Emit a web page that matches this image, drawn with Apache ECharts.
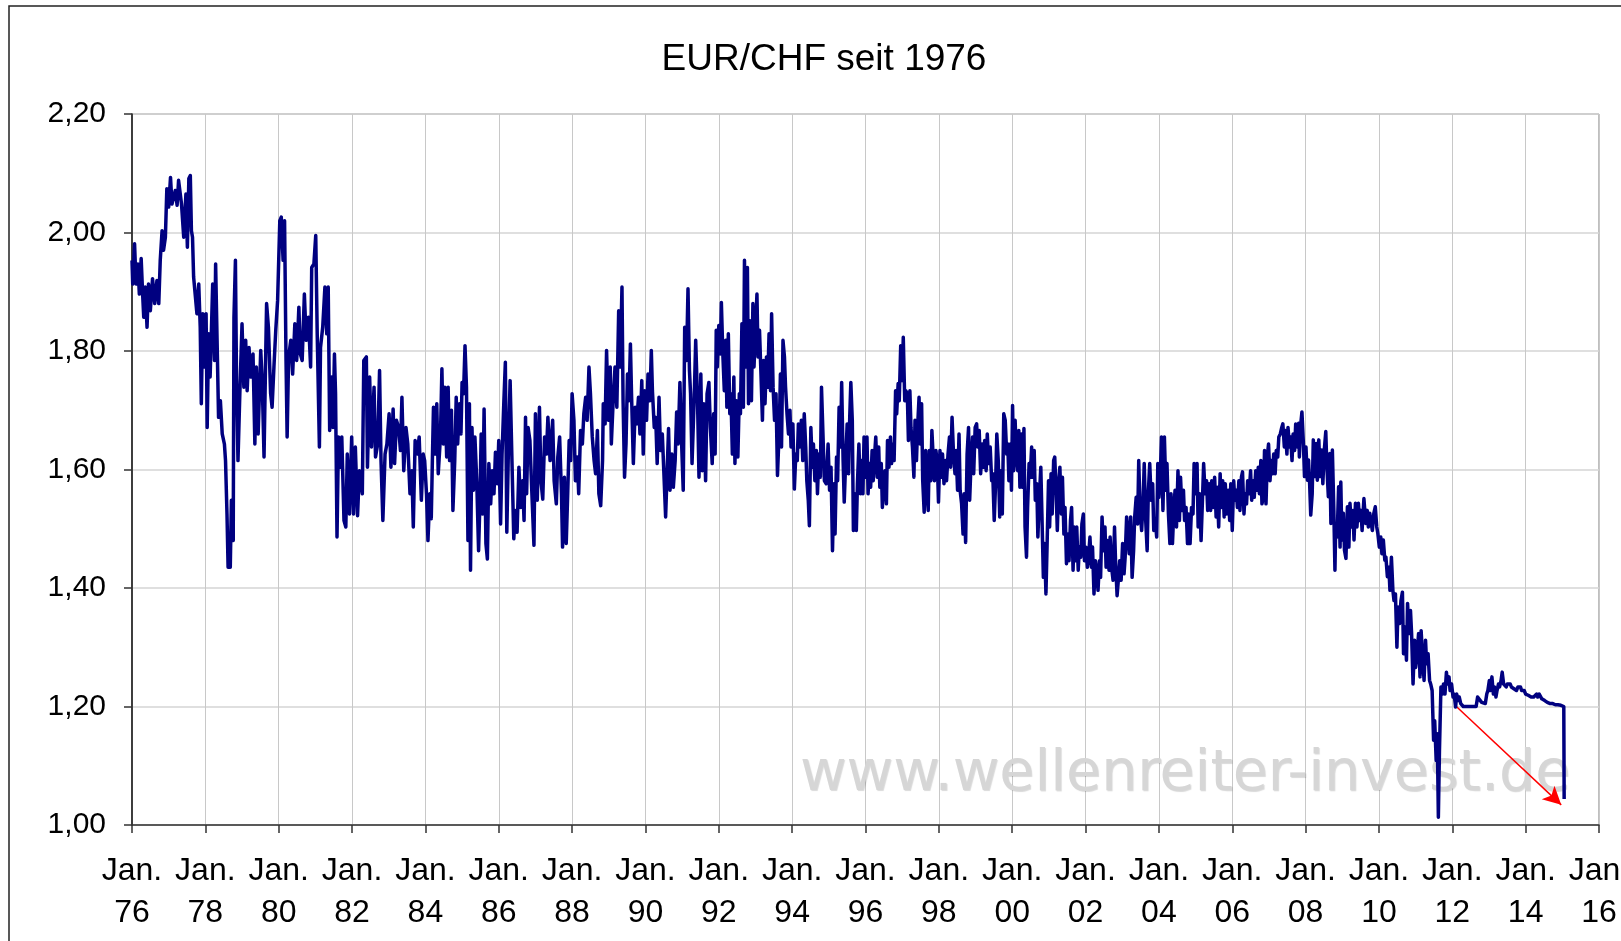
<!DOCTYPE html>
<html>
<head>
<meta charset="utf-8">
<title>EUR/CHF seit 1976</title>
<script src="https://cdn.jsdelivr.net/npm/echarts@6/dist/echarts.min.js"></script>
<style>
  html, body { margin: 0; padding: 0; background: #fff; }
  #chart { width: 1621px; height: 941px; }
</style>
</head>
<body>
<div id="chart"></div>
<script>
var rates1976to1983 = [
  [1976.00,1.953],[1976.02,1.913],[1976.07,1.981],[1976.11,1.913],[1976.16,1.947],[1976.20,1.896],[1976.25,1.956],[1976.29,1.896],[1976.32,1.857],[1976.36,1.908],[1976.41,1.840],[1976.45,1.913],[1976.50,1.868],[1976.56,1.922],[1976.62,1.880],[1976.68,1.919],[1976.73,1.880],[1976.77,1.953],[1976.82,2.003],[1976.86,1.970],[1976.91,1.992],[1976.95,2.074],
  [1977.00,2.043],[1977.05,2.093],[1977.09,2.048],[1977.18,2.071],[1977.23,2.046],[1977.27,2.088],[1977.35,2.048],[1977.41,1.992],[1977.47,2.065],[1977.51,1.975],[1977.55,2.091],[1977.59,2.096],[1977.62,2.003],[1977.65,1.992],[1977.68,1.925],[1977.73,1.925],[1977.77,1.863],[1977.82,1.913],[1977.86,1.840],[1977.89,1.711],[1977.93,1.863],[1977.98,1.773],
  [1978.02,1.863],[1978.05,1.671],[1978.09,1.829],[1978.13,1.756],[1978.20,1.913],[1978.25,1.784],[1978.28,1.947],[1978.32,1.818],[1978.36,1.688],[1978.41,1.716],[1978.46,1.660],[1978.52,1.643],[1978.55,1.615],[1978.59,1.525],[1978.62,1.435],[1978.68,1.435],[1978.71,1.548],[1978.76,1.480],[1978.78,1.857],[1978.82,1.953],[1978.85,1.750],[1978.89,1.615],[1978.94,1.728],
  [1979.00,1.846],[1979.05,1.739],[1979.10,1.818],[1979.14,1.733],[1979.19,1.806],[1979.24,1.756],[1979.30,1.795],[1979.35,1.643],[1979.39,1.773],[1979.44,1.660],[1979.51,1.801],[1979.55,1.750],[1979.60,1.621],[1979.64,1.773],[1979.67,1.880],[1979.72,1.840],[1979.78,1.728],[1979.82,1.705],[1979.87,1.773],[1979.92,1.835],[1979.97,1.885],
  [1980.03,2.020],[1980.07,2.026],[1980.12,1.953],[1980.16,2.020],[1980.20,1.784],[1980.23,1.655],[1980.27,1.790],[1980.33,1.818],[1980.38,1.761],[1980.44,1.846],[1980.49,1.784],[1980.55,1.874],[1980.59,1.795],[1980.64,1.784],[1980.70,1.896],[1980.75,1.818],[1980.81,1.857],[1980.87,1.773],[1980.90,1.941],[1980.96,1.947],
  [1981.01,1.995],[1981.05,1.829],[1981.11,1.638],[1981.14,1.806],[1981.20,1.840],[1981.26,1.908],[1981.31,1.829],[1981.35,1.908],[1981.39,1.666],[1981.44,1.756],[1981.48,1.671],[1981.52,1.795],[1981.55,1.728],[1981.59,1.486],[1981.63,1.655],[1981.68,1.604],[1981.72,1.655],[1981.78,1.514],[1981.83,1.503],[1981.87,1.626],[1981.93,1.525],[1981.99,1.655],
  [1982.04,1.525],[1982.09,1.638],[1982.15,1.522],[1982.20,1.598],[1982.28,1.559],[1982.32,1.784],[1982.39,1.790],[1982.42,1.604],[1982.48,1.756],[1982.53,1.638],[1982.60,1.739],[1982.64,1.621],[1982.70,1.643],[1982.75,1.767],[1982.79,1.615],[1982.84,1.514],[1982.90,1.626],[1982.95,1.643],
  [1983.01,1.694],[1983.06,1.604],[1983.12,1.702],[1983.16,1.610],[1983.21,1.683],[1983.27,1.671],[1983.32,1.632],[1983.36,1.722],[1983.41,1.598],[1983.47,1.671],[1983.52,1.643],[1983.58,1.559],[1983.63,1.598],[1983.67,1.503],[1983.72,1.649],[1983.78,1.626],[1983.83,1.655],[1983.89,1.548],[1983.94,1.626]
];

var rates1984to1991 = [
  [1983.98,1.615],[1984.03,1.559],[1984.07,1.480],[1984.12,1.559],[1984.16,1.517],[1984.19,1.615],[1984.22,1.705],[1984.27,1.626],[1984.31,1.711],[1984.35,1.593],[1984.41,1.655],[1984.45,1.770],[1984.49,1.643],[1984.53,1.739],[1984.58,1.621],[1984.62,1.739],[1984.66,1.615],[1984.71,1.700],[1984.75,1.531],[1984.80,1.615],[1984.84,1.722],[1984.88,1.643],[1984.93,1.711],[1984.97,1.660],
  [1985.00,1.747],[1985.04,1.728],[1985.08,1.809],[1985.12,1.739],[1985.16,1.480],[1985.20,1.711],[1985.23,1.430],[1985.27,1.671],[1985.31,1.565],[1985.35,1.655],[1985.40,1.581],[1985.45,1.463],[1985.49,1.553],[1985.52,1.660],[1985.56,1.525],[1985.60,1.702],[1985.65,1.475],[1985.69,1.449],[1985.73,1.610],[1985.78,1.542],[1985.82,1.598],[1985.87,1.559],[1985.91,1.629],[1985.96,1.576],
  [1986.00,1.649],[1986.05,1.508],[1986.09,1.626],[1986.14,1.716],[1986.18,1.781],[1986.22,1.494],[1986.27,1.655],[1986.31,1.750],[1986.36,1.615],[1986.41,1.483],[1986.45,1.531],[1986.50,1.494],[1986.55,1.604],[1986.60,1.536],[1986.65,1.581],[1986.69,1.514],[1986.73,1.688],[1986.76,1.559],[1986.80,1.671],[1986.85,1.649],[1986.90,1.565],[1986.96,1.472],
  [1987.00,1.694],[1987.05,1.548],[1987.11,1.705],[1987.15,1.581],[1987.20,1.550],[1987.25,1.655],[1987.30,1.626],[1987.34,1.688],[1987.40,1.615],[1987.47,1.683],[1987.51,1.581],[1987.57,1.542],[1987.61,1.621],[1987.66,1.655],[1987.71,1.559],[1987.74,1.469],[1987.79,1.587],[1987.84,1.475],[1987.88,1.559],[1987.92,1.649],[1987.96,1.615],
  [1988.00,1.728],[1988.05,1.683],[1988.09,1.581],[1988.14,1.621],[1988.18,1.559],[1988.23,1.666],[1988.28,1.643],[1988.32,1.694],[1988.37,1.722],[1988.41,1.683],[1988.46,1.773],[1988.50,1.728],[1988.55,1.655],[1988.60,1.615],[1988.64,1.593],[1988.69,1.666],[1988.73,1.559],[1988.78,1.539],[1988.83,1.615],[1988.85,1.711],[1988.90,1.677],[1988.94,1.801],[1988.99,1.683],
  [1989.04,1.773],[1989.07,1.643],[1989.12,1.716],[1989.17,1.773],[1989.22,1.705],[1989.27,1.868],[1989.31,1.773],[1989.36,1.908],[1989.39,1.716],[1989.43,1.587],[1989.47,1.643],[1989.51,1.761],[1989.55,1.716],[1989.59,1.812],[1989.62,1.728],[1989.67,1.610],[1989.72,1.705],[1989.76,1.677],[1989.81,1.722],[1989.85,1.660],[1989.90,1.750],[1989.94,1.626],[1989.98,1.733],
  [1990.03,1.683],[1990.07,1.761],[1990.12,1.716],[1990.16,1.801],[1990.19,1.733],[1990.24,1.671],[1990.28,1.688],[1990.32,1.610],[1990.37,1.722],[1990.41,1.632],[1990.46,1.660],[1990.50,1.598],[1990.55,1.520],[1990.59,1.517],[1990.63,1.669],[1990.67,1.565],[1990.72,1.626],[1990.76,1.570],[1990.81,1.615],[1990.85,1.697],[1990.89,1.643],[1990.94,1.747],[1990.98,1.655],
  [1991.03,1.565],[1991.07,1.840],[1991.12,1.784],[1991.16,1.905],[1991.20,1.767],[1991.23,1.728],[1991.27,1.610],[1991.33,1.722],[1991.37,1.818],[1991.42,1.716],[1991.46,1.587],[1991.51,1.761],[1991.55,1.598],[1991.59,1.711],[1991.64,1.581],[1991.68,1.728],[1991.73,1.747],[1991.77,1.671],[1991.82,1.610],[1991.86,1.694],[1991.90,1.626]
];

var rates1992to1999 = [
  [1991.93,1.835],[1991.96,1.773],[1992.00,1.843],[1992.04,1.795],[1992.07,1.882],[1992.11,1.795],[1992.15,1.733],[1992.19,1.818],[1992.22,1.705],[1992.26,1.829],[1992.30,1.694],[1992.33,1.728],[1992.37,1.626],[1992.41,1.756],[1992.44,1.610],[1992.48,1.716],[1992.52,1.621],[1992.56,1.728],[1992.59,1.694],[1992.63,1.846],[1992.67,1.705],[1992.70,1.953],[1992.74,1.773],[1992.78,1.941],[1992.81,1.711],[1992.85,1.851],[1992.89,1.716],[1992.93,1.880],[1992.96,1.773],
  [1993.00,1.835],[1993.04,1.896],[1993.07,1.790],[1993.11,1.835],[1993.15,1.761],[1993.19,1.683],[1993.22,1.784],[1993.26,1.711],[1993.30,1.790],[1993.33,1.739],[1993.37,1.829],[1993.41,1.733],[1993.44,1.863],[1993.48,1.739],[1993.52,1.683],[1993.56,1.728],[1993.60,1.590],[1993.65,1.671],[1993.68,1.761],[1993.71,1.638],[1993.75,1.818],[1993.79,1.790],[1993.82,1.739],[1993.86,1.694],[1993.90,1.660],[1993.94,1.700],[1993.97,1.638],
  [1994.02,1.677],[1994.06,1.567],[1994.10,1.626],[1994.14,1.615],[1994.17,1.677],[1994.21,1.638],[1994.25,1.683],[1994.29,1.615],[1994.33,1.694],[1994.37,1.638],[1994.40,1.581],[1994.44,1.548],[1994.47,1.505],[1994.51,1.671],[1994.55,1.604],[1994.58,1.643],[1994.62,1.581],[1994.66,1.632],[1994.69,1.559],[1994.73,1.626],[1994.77,1.587],[1994.80,1.739],[1994.84,1.739],[1994.88,1.581],[1994.93,1.576],[1994.98,1.643],
  [1995.02,1.565],[1995.06,1.604],[1995.10,1.463],[1995.14,1.576],[1995.17,1.491],[1995.21,1.621],[1995.24,1.581],[1995.28,1.705],[1995.32,1.638],[1995.35,1.747],[1995.39,1.615],[1995.42,1.545],[1995.46,1.615],[1995.50,1.677],[1995.54,1.593],[1995.57,1.688],[1995.60,1.747],[1995.64,1.683],[1995.67,1.497],[1995.71,1.559],[1995.75,1.497],[1995.78,1.576],[1995.82,1.643],[1995.86,1.559],[1995.89,1.615],[1995.93,1.559],[1995.96,1.655],
  [1996.00,1.587],[1996.04,1.655],[1996.07,1.559],[1996.11,1.610],[1996.14,1.570],[1996.18,1.632],[1996.21,1.581],[1996.25,1.626],[1996.28,1.655],[1996.32,1.587],[1996.36,1.638],[1996.39,1.570],[1996.43,1.610],[1996.46,1.536],[1996.50,1.581],[1996.53,1.598],[1996.57,1.542],[1996.60,1.649],[1996.64,1.604],[1996.68,1.655],[1996.71,1.610],[1996.75,1.643],[1996.78,1.615],[1996.82,1.733],[1996.85,1.694],[1996.89,1.745],[1996.92,1.716],[1996.96,1.809],
  [1997.00,1.750],[1997.03,1.823],[1997.07,1.716],[1997.10,1.733],[1997.14,1.728],[1997.17,1.649],[1997.21,1.733],[1997.24,1.671],[1997.28,1.638],[1997.32,1.587],[1997.35,1.683],[1997.39,1.615],[1997.42,1.671],[1997.46,1.722],[1997.49,1.643],[1997.53,1.711],[1997.56,1.581],[1997.60,1.528],[1997.64,1.632],[1997.67,1.570],[1997.71,1.531],[1997.74,1.632],[1997.78,1.581],[1997.81,1.666],[1997.85,1.615],[1997.88,1.581],[1997.92,1.632],[1997.96,1.610],[1997.99,1.545],
  [1998.03,1.632],[1998.06,1.587],[1998.10,1.626],[1998.14,1.576],[1998.18,1.615],[1998.21,1.581],[1998.25,1.626],[1998.29,1.655],[1998.32,1.604],[1998.36,1.688],[1998.40,1.626],[1998.44,1.593],[1998.47,1.632],[1998.51,1.565],[1998.55,1.660],[1998.58,1.565],[1998.62,1.542],[1998.66,1.491],[1998.69,1.559],[1998.73,1.477],[1998.77,1.626],[1998.81,1.671],[1998.84,1.548],[1998.88,1.615],[1998.92,1.655],[1998.95,1.593],[1998.99,1.671],
  [1999.03,1.677],[1999.06,1.638],[1999.10,1.666],[1999.14,1.593],[1999.18,1.643],[1999.21,1.604],[1999.25,1.649],[1999.29,1.598],[1999.32,1.660],[1999.36,1.610],[1999.40,1.638],[1999.44,1.581],[1999.47,1.593],[1999.51,1.514],[1999.55,1.581],[1999.58,1.660],[1999.62,1.615],[1999.66,1.520],[1999.69,1.598],[1999.73,1.525],[1999.77,1.694],[1999.81,1.683],[1999.85,1.626]
];

var rates2000to2007 = [
  [1999.88,1.643],[1999.91,1.581],[1999.95,1.643],[1999.98,1.565],[2000.01,1.708],[2000.04,1.598],[2000.08,1.683],[2000.11,1.626],[2000.15,1.598],[2000.18,1.666],[2000.21,1.570],[2000.25,1.660],[2000.28,1.570],[2000.32,1.669],[2000.35,1.503],[2000.39,1.452],[2000.42,1.536],[2000.46,1.610],[2000.49,1.587],[2000.53,1.638],[2000.56,1.587],[2000.60,1.632],[2000.63,1.548],[2000.67,1.576],[2000.70,1.486],[2000.74,1.553],[2000.78,1.604],[2000.81,1.525],[2000.85,1.418],[2000.88,1.475],[2000.92,1.390],[2000.95,1.469],[2000.99,1.581],
  [2001.02,1.503],[2001.06,1.593],[2001.09,1.525],[2001.13,1.615],[2001.16,1.621],[2001.20,1.559],[2001.23,1.497],[2001.27,1.581],[2001.30,1.604],[2001.34,1.525],[2001.37,1.587],[2001.41,1.491],[2001.44,1.536],[2001.48,1.441],[2001.52,1.491],[2001.55,1.446],[2001.59,1.514],[2001.62,1.536],[2001.66,1.430],[2001.69,1.503],[2001.73,1.446],[2001.76,1.503],[2001.80,1.430],[2001.83,1.469],[2001.87,1.452],[2001.90,1.508],[2001.94,1.525],[2001.97,1.446],
  [2002.01,1.469],[2002.05,1.435],[2002.08,1.452],[2002.12,1.486],[2002.16,1.435],[2002.19,1.469],[2002.23,1.390],[2002.27,1.446],[2002.30,1.430],[2002.34,1.396],[2002.38,1.446],[2002.41,1.418],[2002.45,1.520],[2002.49,1.463],[2002.53,1.503],[2002.56,1.435],[2002.60,1.480],[2002.64,1.430],[2002.67,1.486],[2002.71,1.435],[2002.75,1.413],[2002.79,1.503],[2002.82,1.441],[2002.86,1.387],[2002.90,1.418],[2002.93,1.446],[2002.97,1.413],
  [2003.01,1.475],[2003.05,1.424],[2003.08,1.452],[2003.12,1.520],[2003.16,1.486],[2003.19,1.458],[2003.23,1.520],[2003.27,1.418],[2003.31,1.463],[2003.34,1.520],[2003.38,1.553],[2003.42,1.508],[2003.45,1.615],[2003.49,1.525],[2003.53,1.497],[2003.57,1.548],[2003.60,1.610],[2003.64,1.514],[2003.68,1.463],[2003.71,1.559],[2003.75,1.610],[2003.79,1.548],[2003.83,1.576],[2003.86,1.497],[2003.90,1.514],[2003.94,1.486],[2003.97,1.610],
  [2004.00,1.553],[2004.04,1.593],[2004.07,1.655],[2004.11,1.531],[2004.15,1.655],[2004.19,1.565],[2004.22,1.610],[2004.26,1.525],[2004.30,1.475],[2004.33,1.559],[2004.37,1.475],[2004.41,1.536],[2004.44,1.565],[2004.48,1.503],[2004.52,1.598],[2004.56,1.514],[2004.59,1.587],[2004.63,1.531],[2004.67,1.565],[2004.70,1.514],[2004.74,1.536],[2004.78,1.475],[2004.81,1.525],[2004.85,1.475],[2004.89,1.536],[2004.93,1.525],[2004.96,1.610],
  [2005.00,1.559],[2005.04,1.610],[2005.07,1.503],[2005.11,1.559],[2005.15,1.480],[2005.19,1.553],[2005.22,1.610],[2005.26,1.559],[2005.30,1.581],[2005.33,1.531],[2005.37,1.576],[2005.41,1.531],[2005.44,1.581],[2005.48,1.536],[2005.52,1.587],[2005.56,1.520],[2005.59,1.570],[2005.63,1.503],[2005.67,1.593],[2005.70,1.536],[2005.74,1.581],[2005.78,1.520],[2005.81,1.576],[2005.85,1.525],[2005.89,1.565],[2005.93,1.514],[2005.96,1.576],
  [2006.00,1.497],[2006.04,1.581],[2006.07,1.548],[2006.11,1.565],[2006.14,1.536],[2006.18,1.581],[2006.21,1.531],[2006.25,1.587],[2006.28,1.596],[2006.32,1.525],[2006.35,1.559],[2006.39,1.542],[2006.42,1.581],[2006.46,1.559],[2006.50,1.598],[2006.53,1.548],[2006.57,1.581],[2006.60,1.553],[2006.64,1.598],[2006.67,1.565],[2006.71,1.604],[2006.74,1.559],[2006.78,1.615],[2006.81,1.542],[2006.85,1.553],[2006.88,1.632],[2006.92,1.542],[2006.96,1.626],[2006.99,1.643],
  [2007.03,1.581],[2007.06,1.615],[2007.10,1.593],[2007.13,1.626],[2007.17,1.593],[2007.20,1.632],[2007.24,1.621],[2007.27,1.655],[2007.31,1.660],[2007.35,1.671],[2007.38,1.677],[2007.42,1.638],[2007.45,1.666],[2007.49,1.626],[2007.52,1.671],[2007.56,1.638],[2007.59,1.655],[2007.63,1.615],[2007.66,1.660],[2007.70,1.632],[2007.73,1.677],[2007.77,1.638]
];

var rates2008to2015 = [
  [2007.81,1.678],[2007.83,1.621],[2007.86,1.672],[2007.90,1.697],[2007.94,1.644],[2007.97,1.588],
  [2008.01,1.638],[2008.05,1.582],[2008.08,1.616],[2008.11,1.576],[2008.14,1.523],[2008.18,1.559],[2008.21,1.650],[2008.25,1.588],[2008.29,1.644],[2008.32,1.582],[2008.36,1.650],[2008.40,1.588],[2008.44,1.633],[2008.47,1.576],[2008.51,1.633],[2008.55,1.664],[2008.58,1.605],[2008.62,1.554],[2008.66,1.627],[2008.69,1.509],[2008.73,1.633],[2008.77,1.531],[2008.80,1.430],[2008.82,1.503],[2008.86,1.486],[2008.90,1.571],[2008.94,1.469],[2008.96,1.579],[2008.99,1.481],
  [2009.03,1.526],[2009.06,1.464],[2009.10,1.450],[2009.14,1.537],[2009.18,1.469],[2009.21,1.543],[2009.25,1.503],[2009.29,1.531],[2009.32,1.481],[2009.36,1.543],[2009.40,1.503],[2009.44,1.543],[2009.47,1.514],[2009.51,1.531],[2009.54,1.497],[2009.59,1.551],[2009.64,1.509],[2009.68,1.531],[2009.71,1.503],[2009.75,1.526],[2009.79,1.509],[2009.82,1.497],[2009.86,1.526],[2009.90,1.537],[2009.94,1.503],[2009.97,1.492],
  [2010.01,1.469],[2010.05,1.486],[2010.08,1.458],[2010.12,1.481],[2010.16,1.447],[2010.19,1.452],[2010.23,1.419],[2010.27,1.435],[2010.30,1.396],[2010.34,1.452],[2010.38,1.396],[2010.41,1.379],[2010.45,1.390],[2010.49,1.300],[2010.52,1.368],[2010.56,1.340],[2010.60,1.379],[2010.64,1.393],[2010.67,1.289],[2010.71,1.334],[2010.75,1.278],[2010.78,1.374],[2010.82,1.323],[2010.86,1.362],[2010.89,1.323],[2010.93,1.238],[2010.97,1.312],
  [2011.00,1.266],[2011.04,1.289],[2011.08,1.323],[2011.12,1.250],[2011.15,1.328],[2011.19,1.283],[2011.23,1.244],[2011.27,1.312],[2011.30,1.272],[2011.34,1.289],[2011.38,1.244],[2011.41,1.238],[2011.45,1.227],[2011.49,1.143],[2011.52,1.176],[2011.56,1.109],[2011.59,1.154],[2011.62,1.013],[2011.65,1.126],[2011.69,1.233],[2011.73,1.221],[2011.76,1.238],[2011.80,1.221],[2011.84,1.258],[2011.87,1.238],[2011.91,1.250],[2011.94,1.227],[2011.98,1.238],
  [2012.02,1.216],[2012.05,1.221],[2012.09,1.199],[2012.12,1.221],[2012.16,1.210],[2012.19,1.216],[2012.23,1.205],[2012.27,1.202],[2012.30,1.200],[2012.39,1.200],[2012.48,1.200],[2012.57,1.200],[2012.65,1.200],[2012.69,1.216],[2012.74,1.216],[2012.80,1.207],[2012.85,1.210],[2012.90,1.205],[2012.94,1.221],[2012.97,1.227],
  [2013.01,1.244],[2013.04,1.227],[2013.08,1.250],[2013.12,1.221],[2013.15,1.233],[2013.19,1.216],[2013.22,1.227],[2013.26,1.238],[2013.29,1.233],[2013.33,1.244],[2013.36,1.258],[2013.40,1.238],[2013.43,1.241],[2013.47,1.233],[2013.50,1.238],[2013.54,1.236],[2013.58,1.238],[2013.61,1.233],[2013.65,1.236],[2013.68,1.230],[2013.72,1.233],[2013.75,1.227],[2013.79,1.233],[2013.82,1.230],[2013.86,1.233],[2013.89,1.227],[2013.93,1.224],[2013.96,1.227],
  [2014.00,1.221],[2014.04,1.223],[2014.07,1.219],[2014.11,1.221],[2014.15,1.216],[2014.19,1.219],[2014.22,1.216],[2014.26,1.219],[2014.30,1.221],[2014.33,1.216],[2014.37,1.221],[2014.41,1.219],[2014.44,1.213],[2014.48,1.216],[2014.52,1.210],[2014.56,1.213],[2014.59,1.207],[2014.63,1.210],[2014.67,1.205],[2014.70,1.207],[2014.74,1.205],[2014.78,1.206],[2014.81,1.203],[2014.85,1.205],[2014.88,1.203],[2014.93,1.202],[2014.96,1.202],
  [2015.00,1.200],[2015.04,1.200],[2015.05,1.044]
];

// roter Pfeil (Start / Ziel)
var arrowFrom = [2012.11, 1.200];
var arrowTo = [2014.97, 1.034];

var yearMin = 1976, yearMax = 2016, yearStep = 2;
var rateMin = 1.0, rateMax = 2.2, rateStep = 0.2;

var font = "'Liberation Sans', Arial, sans-serif";

var allRates = rates1976to1983
  .concat(rates1984to1991)
  .concat(rates1992to1999)
  .concat(rates2000to2007)
  .concat(rates2008to2015);

var myChart = echarts.init(document.getElementById("chart"));

var option = {
  backgroundColor: "#fff",
  animation: false,
  grid: {
    left: 132,
    top: 114,
    right: 22,
    bottom: 116,
    outerBoundsMode: "none",
    containLabel: false,
    show: true,
    borderColor: "#7f7f7f",
    borderWidth: 1,
    backgroundColor: "transparent"
  },
  xAxis: {
    type: "value",
    min: yearMin,
    max: yearMax,
    interval: yearStep,
    axisLine: { lineStyle: { color: "#333", width: 1.5 } },
    axisTick: { show: true, inside: false, length: 8, lineStyle: { color: "#333", width: 1.5 } },
    splitLine: { show: true, lineStyle: { color: "#c8c8c8", width: 1 } },
    axisLabel: {
      color: "#000",
      fontFamily: font,
      fontSize: 32,
      lineHeight: 42,
      margin: 25,
      showMaxLabel: true,
      hideOverlap: false,
      formatter: function (v) {
        return "Jan.\n" + String(Math.round(v)).slice(2);
      }
    }
  },
  yAxis: {
    type: "value",
    min: rateMin,
    max: rateMax,
    interval: rateStep,
    axisLine: { show: true, lineStyle: { color: "#111", width: 1.5 } },
    axisTick: { show: true, inside: false, length: 8, lineStyle: { color: "#333", width: 1.5 } },
    splitLine: { show: true, lineStyle: { color: "#d4d4d4", width: 1.5 } },
    axisLabel: {
      color: "#000",
      fontFamily: font,
      fontSize: 30,
      margin: 26,
      formatter: function (v) {
        return v.toFixed(2).replace(".", ",");
      }
    }
  },
  graphic: [
    {
      type: "rect",
      silent: true,
      z: -1,
      shape: { x: 9, y: 6, width: 1700, height: 1000 },
      style: { fill: "none", stroke: "#222", lineWidth: 1.5 }
    },
    {
      type: "text",
      silent: true,
      z: 1,
      x: 824,
      y: 60,
      style: {
        text: "EUR/CHF seit 1976",
        fontFamily: font,
        fontSize: 37,
        fill: "#000",
        textAlign: "center",
        textVerticalAlign: "middle"
      }
    },
    {
      type: "text",
      silent: true,
      z: 1,
      x: 800,
      y: 775,
      style: {
        text: "www.wellenreiter-invest.de",
        fontFamily: "'DejaVu Sans', Verdana, sans-serif",
        fontSize: 57,
        fill: "#d6d6d6",
        textAlign: "left",
        textVerticalAlign: "middle",
        textShadowColor: "rgba(0,0,0,0.15)",
        textShadowOffsetX: 1,
        textShadowOffsetY: 1,
        textShadowBlur: 1
      }
    }
  ],
  series: [
    {
      name: "EUR/CHF",
      type: "line",
      z: 5,
      data: allRates,
      showSymbol: false,
      symbol: "none",
      sampling: null,
      lineStyle: { color: "#000080", width: 3.5, join: "round" },
      markLine: {
        silent: true,
        symbol: ["none", "arrow"],
        symbolSize: [14, 18],
        label: { show: false },
        lineStyle: { color: "#ff0000", width: 1.5, type: "solid" },
        data: [[{ coord: arrowFrom }, { coord: arrowTo }]]
      }
    }
  ]
};

myChart.setOption(option);
</script>
</body>
</html>
